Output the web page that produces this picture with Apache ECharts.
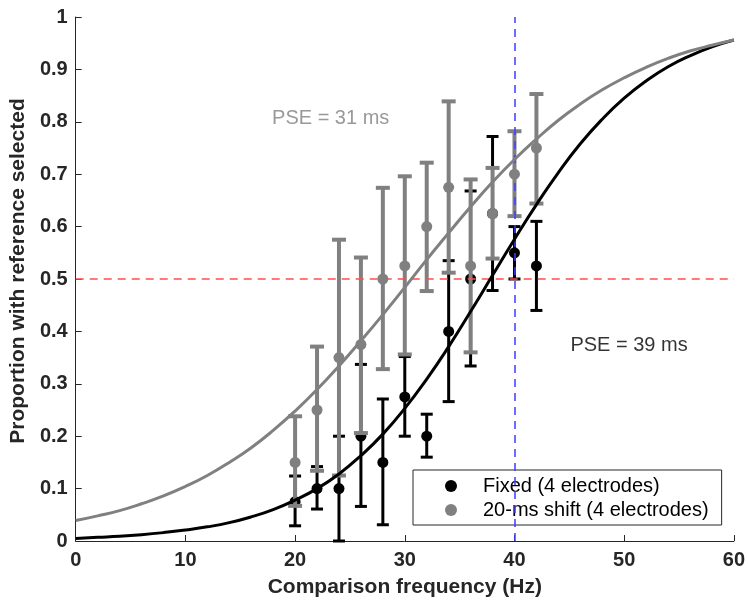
<!DOCTYPE html>
<html>
<head>
<meta charset="utf-8">
<script src="https://cdn.jsdelivr.net/npm/echarts@6/dist/echarts.min.js"></script>
<style>html,body{margin:0;padding:0;background:#fff;}#c{width:748px;height:603px;}</style>
</head>
<body>
<div id="c"></div>
<script>
// ---- data ----
const freqs = [20, 22, 24, 26, 28, 30, 32, 34, 36, 38, 40, 42];
const fixedMean = [0.075, 0.1, 0.1, 0.2, 0.15, 0.275, 0.2, 0.4, 0.5, 0.625, 0.55, 0.525];
const fixedLow  = [0.029, 0.061, 0.0, 0.066, 0.031, 0.2, 0.16, 0.266, 0.334, 0.478, 0.5, 0.44];
const fixedHigh = [0.124, 0.142, 0.2, 0.337, 0.271, 0.352, 0.242, 0.535, 0.668, 0.772, 0.6, 0.61];
const shiftMean = [0.15, 0.25, 0.35, 0.375, 0.5, 0.525, 0.6, 0.675, 0.525, 0.625, 0.7, 0.75];
const shiftLow  = [0.067, 0.134, 0.125, 0.206, 0.328, 0.356, 0.477, 0.512, 0.36, 0.539, 0.62, 0.644];
const shiftHigh = [0.238, 0.371, 0.575, 0.541, 0.674, 0.696, 0.722, 0.839, 0.69, 0.712, 0.782, 0.853];

const curveX = [0,2,4,6,8,10,12,14,16,18,20,22,24,26,28,30,32,34,36,38,40,42,44,46,48,50,52,54,56,58,60];
const fixedCurve = [0.005,0.007,0.009,0.012,0.016,0.021,0.027,0.035,0.046,0.060,0.078,0.100,0.128,0.163,0.204,0.253,0.309,0.371,0.438,0.507,0.576,0.642,0.703,0.758,0.805,0.845,0.878,0.905,0.926,0.943,0.956];
const shiftCurve = [0.039,0.048,0.058,0.071,0.086,0.104,0.125,0.150,0.178,0.211,0.248,0.289,0.334,0.382,0.432,0.484,0.537,0.588,0.638,0.685,0.728,0.767,0.803,0.834,0.861,0.884,0.904,0.921,0.935,0.946,0.956];

const xTicks = [0, 10, 20, 30, 40, 50, 60];
const yTicks = [0, 0.1, 0.2, 0.3, 0.4, 0.5, 0.6, 0.7, 0.8, 0.9, 1];
const refY = 0.5;
const refX = 40;
const annotations = [
  {text: 'PSE = 31 ms', x: 17.9, y: 0.806, color: '#808080'},
  {text: 'PSE = 39 ms', x: 45.1, y: 0.374, color: '#000000'}
];
const seriesNames = ['Fixed (4 electrodes)', '20-ms shift (4 electrodes)'];
// ---------------------------------------

const FONT = 'Liberation Sans, Arial, Helvetica, sans-serif';
const AX = '#262626';
const GRAY = '#808080';

function errData(lo, hi) {
  return freqs.map((f, i) => [f, lo[i], hi[i]]);
}
function errRender(color, lw, capHalf) {
  return function (params, api) {
    const x = api.value(0);
    const p1 = api.coord([x, api.value(1)]);
    const p2 = api.coord([x, api.value(2)]);
    const st = {stroke: color, lineWidth: lw};
    return {
      type: 'group',
      children: [
        {type: 'line', shape: {x1: p1[0], y1: p1[1], x2: p2[0], y2: p2[1]}, style: st},
        {type: 'line', shape: {x1: p1[0] - capHalf, y1: p1[1], x2: p1[0] + capHalf, y2: p1[1]}, style: st},
        {type: 'line', shape: {x1: p2[0] - capHalf, y1: p2[1], x2: p2[0] + capHalf, y2: p2[1]}, style: st}
      ]
    };
  };
}

const chart = echarts.init(document.getElementById('c'), null, {renderer: 'canvas'});
const option = {
  animation: false,
  backgroundColor: '#ffffff',
  grid: {left: 75, right: 11, top: 17, bottom: 61, containLabel: false},
  xAxis: {
    type: 'value', min: 0, max: 60, interval: 10,
    name: 'Comparison frequency (Hz)', nameLocation: 'middle', nameGap: 36,
    nameTextStyle: {fontFamily: FONT, fontWeight: 'bold', fontSize: 21, color: AX},
    axisLine: {show: true, onZero: false, lineStyle: {color: AX, width: 1}},
    axisTick: {show: true, inside: true, length: 6, lineStyle: {color: AX}},
    axisLabel: {fontFamily: FONT, fontWeight: 'bold', fontSize: 20, color: AX, margin: 9,
      formatter: v => xTicks.includes(v) ? String(v) : ''},
    splitLine: {show: false}
  },
  yAxis: {
    type: 'value', min: 0, max: 1, interval: 0.1,
    name: 'Proportion with reference selected', nameLocation: 'middle', nameGap: 43,
    nameTextStyle: {fontFamily: FONT, fontWeight: 'bold', fontSize: 21, color: AX, padding: [0, 0, 0, 16]},
    axisLine: {show: true, onZero: false, lineStyle: {color: AX, width: 1}},
    axisTick: {show: true, inside: true, length: 6, lineStyle: {color: AX}},
    axisLabel: {fontFamily: FONT, fontWeight: 'bold', fontSize: 20, color: AX, margin: 8,
      formatter: v => { const r = Math.round(v * 10) / 10; return yTicks.includes(r) ? String(r) : ''; }},
    splitLine: {show: false}
  },
  legend: {
    data: seriesNames.map(n => ({name: n, icon: 'circle'})),
    orient: 'vertical', left: 413, top: 470,
    padding: [4, 13, 3, 32],
    itemWidth: 12, itemHeight: 12, itemGap: 0,
    borderColor: AX, borderWidth: 1, backgroundColor: '#ffffff',
    formatter: n => '{g|}' + n,
    textStyle: {fontFamily: FONT, fontSize: 20, color: '#000', lineHeight: 24,
      rich: {g: {width: 21}}},
    selectedMode: false
  },
  series: [
    {
      type: 'line', name: 'refLines', silent: true, symbol: 'none', data: [],
      markLine: {
        silent: true, symbol: 'none', label: {show: false},
        data: [
          [{coord: [0, refY], lineStyle: {color: '#ff4d4d', type: [8, 6], width: 1.5}}, {coord: [60, refY]}],
          [{coord: [refX, 0], lineStyle: {color: '#3d3dff', type: [8, 6], width: 1.5}}, {coord: [refX, 1]}]
        ]
      },
      z: 1
    },
    {
      type: 'custom', name: 'fixedErr', renderItem: errRender('#000000', 3, 6),
      data: errData(fixedLow, fixedHigh), z: 2, silent: true
    },
    {
      type: 'scatter', name: seriesNames[0], symbol: 'circle', symbolSize: 11,
      itemStyle: {color: '#000000', opacity: 1}, data: freqs.map((f, i) => [f, fixedMean[i]]), z: 3
    },
    {
      type: 'custom', name: 'shiftErr', renderItem: errRender(GRAY, 4, 7),
      data: errData(shiftLow, shiftHigh), z: 4, silent: true
    },
    {
      type: 'scatter', name: seriesNames[1], symbol: 'circle', symbolSize: 11,
      itemStyle: {color: GRAY, opacity: 1}, data: freqs.map((f, i) => [f, shiftMean[i]]), z: 5
    },
    {
      type: 'line', name: 'fixedFit', symbol: 'none', smooth: 0.5,
      lineStyle: {color: '#000000', width: 3}, data: curveX.map((x, i) => [x, fixedCurve[i]]), z: 6
    },
    {
      type: 'line', name: 'shiftFit', symbol: 'none', smooth: 0.5,
      lineStyle: {color: GRAY, width: 3}, data: curveX.map((x, i) => [x, shiftCurve[i]]), z: 6
    },
    {
      type: 'scatter', name: 'annot', symbolSize: 0, silent: true,
      data: annotations.map(a => ({
        value: [a.x, a.y],
        label: {show: true, position: 'right', distance: 0, formatter: a.text,
          fontFamily: FONT, fontSize: 20, color: a.color}
      })),
      z: 7
    }
  ]
};
chart.setOption(option);
</script>
</body>
</html>
